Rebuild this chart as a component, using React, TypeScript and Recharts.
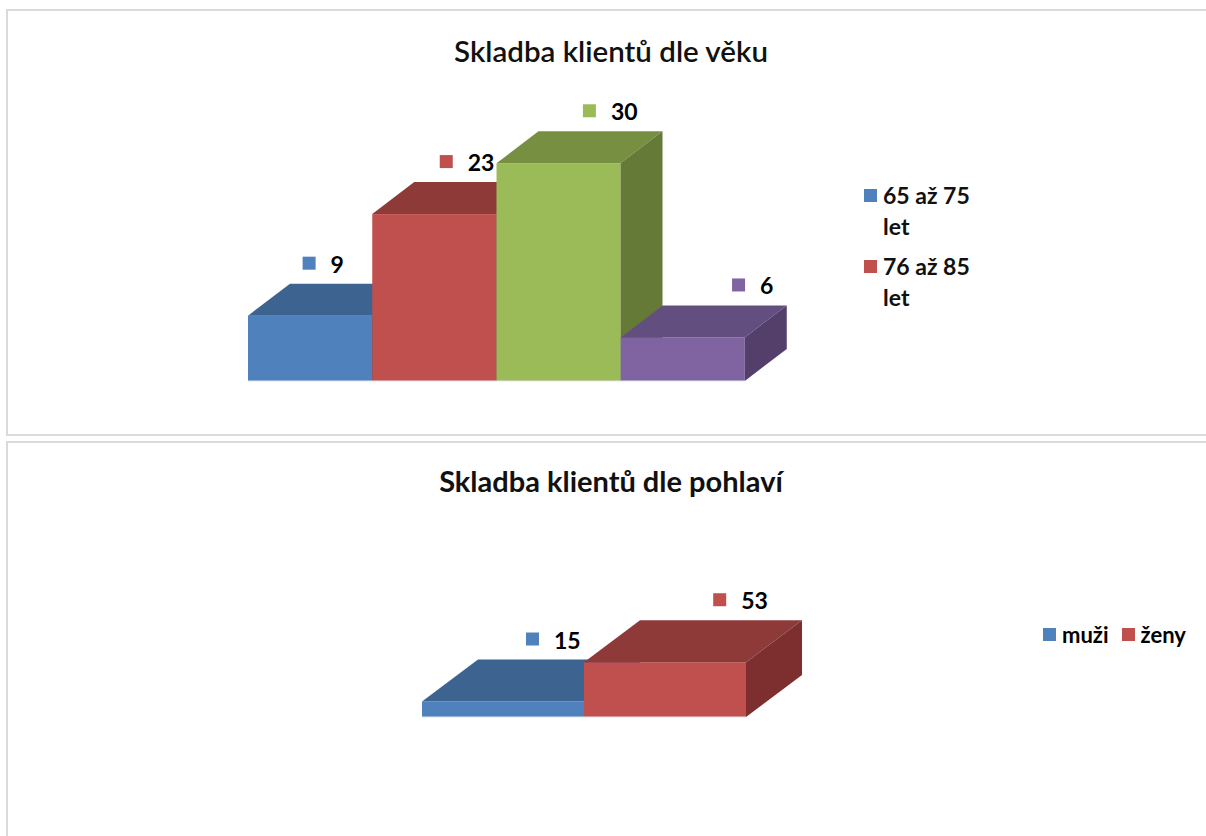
import React from 'react';
import { BarChart, Bar, XAxis, YAxis, Cell, LabelList } from 'recharts';

// ---- data ----
const ageCategories = ['65 až 75 let', '76 až 85 let', '86 až 95 let', 'nad 95 let'];
const ageValues = [9, 23, 30, 6];
const ageLegendShown = ['65 až 75 let', '76 až 85 let'];
const ageColors = ['#4F81BD', '#C0504D', '#9BBB59', '#8064A2'];
const ageTopColors = ['#3D6390', '#8E3A39', '#778F41', '#634E80'];
const ageSideColors = ['#34557C', '#7C2F2E', '#647A36', '#533F6A'];

const sexCategories = ['muži', 'ženy'];
const sexValues = [15, 53];
const sexColors = ['#4F81BD', '#C0504D'];
const sexTopColors = ['#3D6390', '#8E3A39'];
const sexSideColors = ['#34557C', '#7C2F2E'];

const ageData = ageCategories.map((c, i) => ({ name: c, value: ageValues[i] }));
const sexData = sexCategories.map((c, i) => ({ name: c, value: sexValues[i] }));

const FONT = 'Lato, "Noto Sans", sans-serif';

function make3DShape(dx: number, dy: number, tops: string[], sides: string[]) {
  return (props: any) => {
    const { x, y, width, height, index, fill } = props;
    const w = width, h = height;
    return (
      <g>
        <rect x={x} y={y} width={w} height={h} fill={fill} />
        <polygon
          points={`${x},${y} ${x + dx},${y - dy} ${x + w + dx},${y - dy} ${x + w},${y}`}
          fill={tops[index]}
        />
        <polygon
          points={`${x + w},${y} ${x + w + dx},${y - dy} ${x + w + dx},${y + h - dy} ${x + w},${y + h}`}
          fill={sides[index]}
        />
        <line x1={x} y1={y + h} x2={x + w} y2={y + h} stroke="#dfe6ee" strokeWidth={1} />
      </g>
    );
  };
}

function makeLabel(dx: number, dy: number, a: number, b: number, colors: string[]) {
  return (props: any) => {
    const { x, y, width, value, index } = props;
    const cx = x + width / 2 + dx * (a + b * index);
    const cy = y - dy - 20;
    const txt = String(value);
    const textW = txt.length * 12;
    const groupW = 13 + 15 + textW;
    const left = cx - groupW / 2;
    return (
      <g>
        <rect x={left} y={cy - 7} width={13} height={13} fill={colors[index]} />
        <text x={left + 28} y={cy} dominantBaseline="central" fontFamily={FONT} fontWeight={700} fontSize={23} fill="#000">
          {txt}
        </text>
      </g>
    );
  };
}

const AgeLegend = () => (
  <div style={{ fontFamily: FONT, fontWeight: 700, fontSize: 23, color: '#111', lineHeight: '31px', width: 130 }}>
    {ageLegendShown.map((c, i) => (
      <div key={c} style={{ position: 'relative', paddingLeft: 19, marginBottom: 9 }}>
        <span style={{ position: 'absolute', left: 0, top: 9, width: 13, height: 13, background: ageColors[i] }} />
        {c}
      </div>
    ))}
  </div>
);

const SexLegend = () => (
  <div style={{ fontFamily: FONT, fontWeight: 700, fontSize: 22, color: '#000', display: 'flex', whiteSpace: 'nowrap' }}>
    {sexCategories.map((c, i) => (
      <div key={c} style={{ display: 'flex', alignItems: 'center', marginRight: 13 }}>
        <span style={{ display: 'inline-block', width: 13, height: 13, background: sexColors[i], marginRight: 6 }} />
        {c}
      </div>
    ))}
  </div>
);

export default function App() {
  const topShape = make3DShape(42, 32, ageTopColors, ageSideColors);
  const botShape = make3DShape(56, 42, sexTopColors, sexSideColors);
  return (
    <div style={{ position: 'absolute', left: 0, top: 0, width: 1206, height: 836, background: '#fff', overflow: 'hidden' }}>
      {/* frames */}
      <div style={{ position: 'absolute', left: 6, top: 9, width: 1220, height: 427, border: '2px solid #dadada', boxSizing: 'border-box' }} />
      <div style={{ position: 'absolute', left: 6, top: 441, width: 1220, height: 420, border: '2px solid #dadada', boxSizing: 'border-box' }} />

      {/* titles */}
      <div style={{ position: 'absolute', left: 0, top: 33, width: 1222, textAlign: 'center', fontFamily: FONT, fontSize: 29.5, fontWeight: 600, color: '#111' }}>
        Skladba klientů dle věku
      </div>
      <div style={{ position: 'absolute', left: 0, top: 463, width: 1222, textAlign: 'center', fontFamily: FONT, fontSize: 29, fontWeight: 700, color: '#111' }}>
        Skladba klientů dle pohlaví
      </div>

      {/* top chart */}
      <div style={{ position: 'absolute', left: 0, top: 0 }}>
        <BarChart
          width={1206}
          height={440}
          data={ageData}
          margin={{ top: 127, left: 248, right: 1206 - 745, bottom: 440 - 381 }}
          barCategoryGap={0}
        >
          <XAxis dataKey="name" hide />
          <YAxis hide domain={[0, 35]} />
          <Bar dataKey="value" shape={topShape} isAnimationActive={false}>
            {ageData.map((d, i) => (
              <Cell key={d.name} fill={ageColors[i]} />
            ))}
            <LabelList dataKey="value" content={makeLabel(42, 32, 0.3, 0.45, ageColors)} />
          </Bar>
        </BarChart>
      </div>
      <div style={{ position: 'absolute', left: 864, top: 180 }}>
        <AgeLegend />
      </div>

      {/* bottom chart */}
      <div style={{ position: 'absolute', left: 0, top: 441 }}>
        <BarChart
          width={1206}
          height={395}
          data={sexData}
          margin={{ top: 717 - 441 - 62, left: 422, right: 1206 - 746, bottom: 395 - (717 - 441) }}
          barCategoryGap={0}
        >
          <XAxis dataKey="name" hide />
          <YAxis hide domain={[0, 60]} />
          <Bar dataKey="value" shape={botShape} isAnimationActive={false}>
            {sexData.map((d, i) => (
              <Cell key={d.name} fill={sexColors[i]} />
            ))}
            <LabelList dataKey="value" content={makeLabel(56, 42, 0.875, 0.45, sexColors)} />
          </Bar>
        </BarChart>
      </div>
      <div style={{ position: 'absolute', left: 1043, top: 621 }}>
        <SexLegend />
      </div>
    </div>
  );
}
